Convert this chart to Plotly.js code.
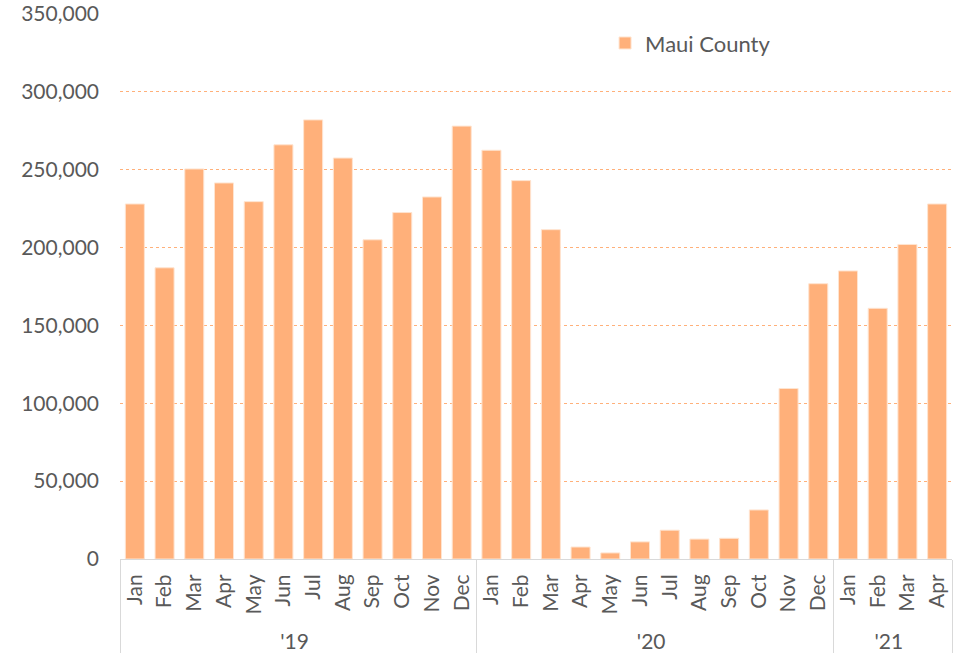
<!DOCTYPE html>
<html>
<head>
<meta charset="utf-8">
<script src="https://cdn.plot.ly/plotly-3.0.1.min.js"></script>
<style>html,body{margin:0;padding:0;background:#fff;}#chart{width:958px;height:664px;}</style>
</head>
<body>
<div id="chart"></div>
<script>
const years = ["'19","'19","'19","'19","'19","'19","'19","'19","'19","'19","'19","'19",
               "'20","'20","'20","'20","'20","'20","'20","'20","'20","'20","'20","'20",
               "'21","'21","'21","'21"];
const months = ["Jan","Feb","Mar","Apr","May","Jun","Jul","Aug","Sep","Oct","Nov","Dec",
                "Jan","Feb","Mar","Apr","May","Jun","Jul","Aug","Sep","Oct","Nov","Dec",
                "Jan","Feb","Mar","Apr"];
const visitors = [228000,187000,250500,241500,229500,266000,282000,257500,205000,222500,232500,278000,
                  262500,243000,211500,7700,3900,11000,18500,12800,13300,31500,109500,176800,
                  185000,161000,202000,228000];
const seriesName = "Maui County";

const fontFam = "Lato, 'Open Sans', sans-serif";
const trace = {
  type: "bar",
  x: [years, months],
  y: visitors,
  name: seriesName,
  marker: {color: "#FFB07A", line: {color: "#FFE4D0", width: 1}},
  showlegend: true,
  hoverinfo: "y"
};
const layout = {
  width: 958, height: 664,
  margin: {l: 120, r: 6, t: 14, b: 105},
  paper_bgcolor: "#fff", plot_bgcolor: "#fff",
  font: {family: fontFam, size: 21, color: "#595959"},
  bargap: 0.36,
  showlegend: true,
  legend: {x: 0.583, y: 0.985, xanchor: "left", yanchor: "top", bgcolor: "rgba(0,0,0,0)",
           itemwidth: 30,
           font: {family: fontFam, size: 22, color: "#595959"}},
  xaxis: {
    type: "multicategory",
    tickangle: -90,
    showline: true, linecolor: "#d9d9d9", linewidth: 1,
    ticks: "", showgrid: false,
    ticklabelstandoff: 6,
    showdividers: true, dividercolor: "#d9d9d9", dividerwidth: 1,
    tickfont: {family: fontFam, size: 21, color: "#595959"}
  },
  yaxis: {
    range: [0, 350000], dtick: 50000, tickformat: ",d",
    showgrid: true, gridcolor: "#FFB07A", griddash: "dot", gridwidth: 1,
    zeroline: false, showline: false, ticks: "",
    ticklabelstandoff: 20,
    tickfont: {family: fontFam, size: 21, color: "#595959"}
  }
};
Plotly.newPlot("chart", [trace], layout, {displayModeBar: false, staticPlot: true});
</script>
</body>
</html>
